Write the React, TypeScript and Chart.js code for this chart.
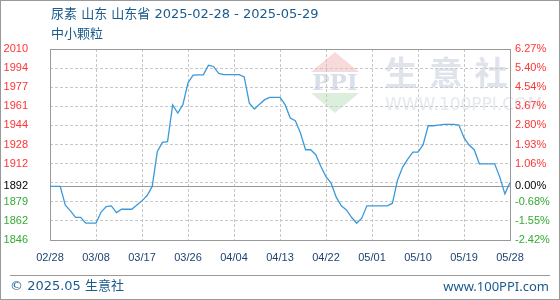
import React, { useEffect, useRef } from 'react';
import { Chart, registerables } from 'chart.js';

Chart.register(...registerables);

// ---------- text ----------
const titleLine1 = '尿素 山东 山东省 2025-02-28 - 2025-05-29';
const titleLine2 = '中小颗粒';
const footerLeft = '© 2025.05 生意社';
const footerRight = 'www.100PPI.com';
const watermarkChars = ['生', '意', '社'];
const watermarkUrl = 'WWW.100PPI.COM';
const watermarkLogo = 'PPI';

// ---------- categories (daily, 2025-02-28 .. 2025-05-29) ----------
const dates: string[] = [];
for (let i = 0; i < 91; i++) {
  const d = new Date(Date.UTC(2025, 1, 28 + i));
  const mm = String(d.getUTCMonth() + 1).padStart(2, '0');
  const dd = String(d.getUTCDate()).padStart(2, '0');
  dates.push(`${mm}/${dd}`);
}
const xTickEvery = 9;
const xTickLabels = ['02/28', '03/08', '03/17', '03/26', '04/04', '04/13', '04/22', '05/01', '05/10', '05/19', '05/28'];

// ---------- series ----------
const prices = [
  1892, 1892, 1892, 1876, 1871, 1865.5, 1865.5, 1860.5, 1860.5, 1860.5,
  1870, 1874.7, 1875.3, 1869.5, 1872.4, 1872.4, 1872.4, 1876, 1879.6, 1884.2,
  1892, 1922, 1929.8, 1930.4, 1962, 1955, 1962.2, 1981, 1987.5, 1987.8,
  1987.8, 1996, 1995, 1989, 1988, 1988, 1988, 1988, 1986, 1963.5,
  1958.5, 1962.5, 1966.5, 1968.5, 1968.5, 1968.5, 1962.2, 1950.8, 1948.4, 1937.8,
  1923.5, 1923.5, 1919.2, 1909.1, 1900.5, 1894.8, 1882.8, 1875.3, 1871.8, 1865.5,
  1860.4, 1864.7, 1875.3, 1875.3, 1875.3, 1875.3, 1875.3, 1877.6, 1897.6, 1908.6,
  1915.5, 1921.5, 1921.5, 1927.8, 1944.1, 1944.1, 1944.7, 1945.3, 1945.3, 1945.3,
  1944.7, 1933.8, 1927.5, 1923.5, 1911.4, 1911.4, 1911.4, 1911.4, 1900, 1885.6,
  1895.3,
];

// ---------- y axis ----------
const yMin = 1846;
const yMax = 2010;
const yGridCount = 10;
const baseValue = 1892;
const baseLabelLeft = '1892';
const baseLabelRight = '0.00%';
// gridlines from bottom to top
const leftTickLabels = ['1846', '1862', '1879', '', '1912', '1928', '1944', '1961', '1977', '1994', '2010'];
const rightTickLabels = ['-2.42%', '-1.55%', '-0.68%', '', '1.06%', '1.93%', '2.80%', '3.67%', '4.54%', '5.40%', '6.27%'];

const yStep = (yMax - yMin) / yGridCount;
const gridValues = leftTickLabels.map((_, k) => yMin + k * yStep);

const RED = '#ff3333';
const GREEN = '#33aa33';
const BLACK = '#000000';
const GRID = '#c8c8c8';
const FRAME = '#999999';
const LINE = '#3a9ad9';
const TITLE = '#1a5a8c';
const XLABEL = '#1c4272';

const labelFont = { family: '"Liberation Sans", Arial, sans-serif', size: 11 };
const headFont = '13px "DejaVu Sans", "Noto Sans CJK SC", sans-serif';

function gridIndex(v: number) {
  return Math.round((v - yMin) / yStep);
}
function labelColor(v: number) {
  if (Math.abs(v - baseValue) < 1e-6) return BLACK;
  return v > baseValue ? RED : GREEN;
}
function buildYTicks(axis: any) {
  axis.ticks = [...gridValues, baseValue].sort((a, b) => a - b).map((v) => ({ value: v }));
}

const decorPlugin = {
  id: 'decor',
  beforeDraw(chart: any) {
    const ctx = chart.ctx as CanvasRenderingContext2D;
    ctx.save();
    ctx.fillStyle = '#ffffff';
    ctx.fillRect(0, 0, chart.width, chart.height);
    // watermark logo
    ctx.fillStyle = '#f9dada';
    ctx.beginPath();
    ctx.moveTo(335, 52);
    ctx.lineTo(359, 72);
    ctx.lineTo(311, 72);
    ctx.closePath();
    ctx.fill();
    ctx.fillStyle = '#d8deea';
    ctx.font = 'bold 23px "DejaVu Serif", serif';
    ctx.textAlign = 'center';
    ctx.textBaseline = 'middle';
    ctx.fillText(watermarkLogo, 335, 84);
    ctx.fillStyle = '#dcefdc';
    ctx.beginPath();
    ctx.moveTo(311, 93);
    ctx.lineTo(359, 93);
    ctx.lineTo(335, 113);
    ctx.closePath();
    ctx.fill();
    // watermark text
    ctx.fillStyle = '#dfe3ec';
    ctx.font = 'bold 33px "Noto Sans CJK SC", sans-serif';
    watermarkChars.forEach((c, i) => ctx.fillText(c, 401 + i * 45, 72));
    ctx.fillStyle = '#e4e8f0';
    ctx.font = '17px "DejaVu Sans", sans-serif';
    ctx.textAlign = 'left';
    ctx.fillText(watermarkUrl, 385, 106);
    ctx.restore();
  },
  beforeDatasetsDraw(chart: any) {
    const ctx = chart.ctx as CanvasRenderingContext2D;
    const a = chart.chartArea;
    const yScale = chart.scales.y;
    ctx.save();
    ctx.strokeStyle = FRAME;
    ctx.lineWidth = 1;
    const by = Math.round(yScale.getPixelForValue(baseValue)) + 0.5;
    ctx.beginPath();
    ctx.moveTo(a.left, by);
    ctx.lineTo(a.right, by);
    ctx.stroke();
    ctx.strokeRect(Math.round(a.left) + 0.5, Math.round(a.top) + 0.5, Math.round(a.right - a.left), Math.round(a.bottom - a.top));
    ctx.restore();
  },
  afterDraw(chart: any) {
    const ctx = chart.ctx as CanvasRenderingContext2D;
    ctx.save();
    // outer frame
    ctx.strokeStyle = FRAME;
    ctx.lineWidth = 1;
    ctx.strokeRect(0.5, 0.5, chart.width - 1, chart.height - 1);
    // footer separator
    ctx.beginPath();
    ctx.moveTo(10, 275.5);
    ctx.lineTo(550, 275.5);
    ctx.stroke();
    // title
    ctx.fillStyle = TITLE;
    ctx.textBaseline = 'middle';
    ctx.textAlign = 'left';
    ctx.font = headFont;
    ctx.fillText(titleLine1, 51, 15);
    ctx.fillText(titleLine2, 51, 35);
    // footer
    ctx.fillText(footerLeft, 10, 287);
    ctx.textAlign = 'right';
    ctx.font = '13px "Noto Sans", sans-serif';
    ctx.fillText(footerRight, 549, 287);
    ctx.restore();
  },
};

export default function App() {
  const ref = useRef<HTMLCanvasElement | null>(null);
  useEffect(() => {
    document.body.style.margin = '0';
    if (!ref.current) return;
    const chart = new Chart(ref.current, {
      type: 'line',
      data: {
        labels: dates,
        datasets: [
          {
            data: prices,
            borderColor: LINE,
            borderWidth: 1.3,
            pointRadius: 0,
            tension: 0,
            fill: false,
            yAxisID: 'y',
          },
        ],
      },
      options: {
        animation: false,
        responsive: false,
        devicePixelRatio: 1,
        layout: { padding: { top: 49, left: 0, right: 0, bottom: 0 } },
        plugins: { legend: { display: false }, tooltip: { enabled: false }, title: { display: false } },
        scales: {
          x: {
            type: 'category',
            offset: false,
            afterBuildTicks: (axis: any) => {
              axis.ticks = axis.ticks.filter((t: any) => t.value % xTickEvery === 0);
            },
            afterFit: (s: any) => {
              s.height = 60;
            },
            grid: { color: GRID, drawTicks: false, lineWidth: 1 },
            border: { display: false, dash: [3, 2] },
            ticks: {
              autoSkip: false,
              maxRotation: 0,
              padding: 11,
              color: XLABEL,
              font: labelFont,
              callback: (v: any) => xTickLabels[Math.round(Number(v) / xTickEvery)] ?? '',
            },
          },
          y: {
            type: 'linear',
            position: 'left',
            min: yMin,
            max: yMax,
            afterBuildTicks: buildYTicks,
            afterFit: (s: any) => {
              s.width = 50;
            },
            grid: {
              color: (ctx: any) => (Math.abs(ctx.tick.value - baseValue) < 1e-6 ? 'rgba(0,0,0,0)' : GRID),
              drawTicks: false,
              lineWidth: 1,
            },
            border: { display: false, dash: [3, 2] },
            ticks: {
              autoSkip: false,
              padding: 22,
              font: labelFont,
              color: (ctx: any) => labelColor(ctx.tick.value),
              callback: (v: any) => {
                const n = Number(v);
                if (Math.abs(n - baseValue) < 1e-6) return baseLabelLeft;
                return leftTickLabels[gridIndex(n)] ?? '';
              },
            },
          },
          y1: {
            type: 'linear',
            position: 'right',
            min: yMin,
            max: yMax,
            afterBuildTicks: buildYTicks,
            afterFit: (s: any) => {
              s.width = 50;
            },
            grid: { display: false, drawTicks: false },
            border: { display: false },
            ticks: {
              autoSkip: false,
              padding: 5,
              font: labelFont,
              color: (ctx: any) => labelColor(ctx.tick.value),
              callback: (v: any) => {
                const n = Number(v);
                if (Math.abs(n - baseValue) < 1e-6) return baseLabelRight;
                return rightTickLabels[gridIndex(n)] ?? '';
              },
            },
          },
        },
      },
      plugins: [decorPlugin],
    } as any);
    return () => chart.destroy();
  }, []);
  return <canvas ref={ref} width={560} height={300} style={{ display: 'block', width: 560, height: 300 }} />;
}
